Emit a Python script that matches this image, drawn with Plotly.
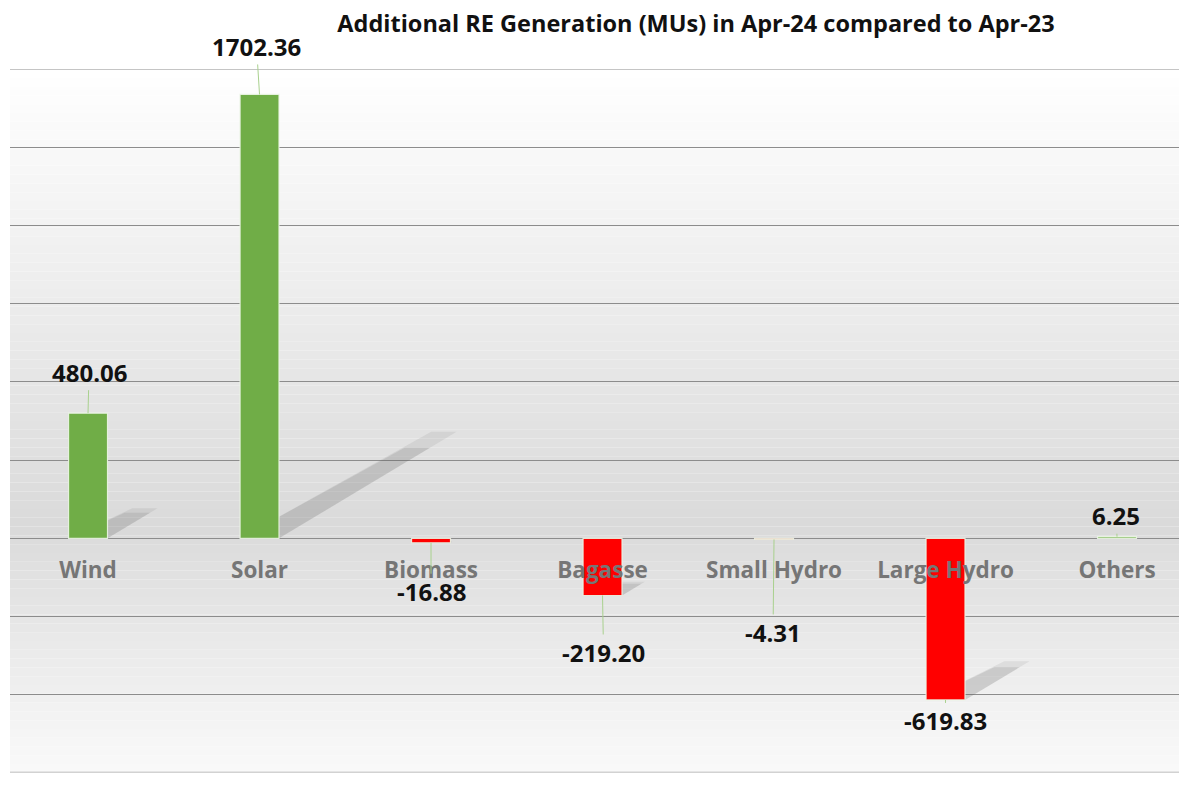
import plotly.graph_objects as go

categories = ["Wind", "Solar", "Biomass", "Bagasse", "Small Hydro", "Large Hydro", "Others"]
values = [480.06, 1702.36, -16.88, -219.20, -4.31, -619.83, 6.25]
label_texts = ["480.06", "1702.36", "-16.88", "-219.20", "-4.31", "-619.83", "6.25"]
title_text = "Additional RE Generation (MUs) in Apr-24 compared to Apr-23"

# label offsets (px) for the data labels
label_dx = [1, -3, 0, 1, -1, 0, -1]
label_dy = [-41, -48, 49, 57, 93, 21, -21]

GREEN = "#70AD47"
RED = "#FF0000"
FONT = "Open Sans"

W, H = 1187, 789
# the page body adds an 8px offset; margins compensate for it
M_L, M_R, M_T, M_B = 2, 8, 61, 24
Y_MIN, Y_MAX = -900, 1800
X_MIN, X_MAX = -0.455, 6.408
BAR_W = 0.227

plot_w = W - M_L - M_R
plot_h = H - M_T - M_B
px_per_x = plot_w / (X_MAX - X_MIN)
px_per_y = plot_h / (Y_MAX - Y_MIN)

colors = [GREEN if v >= 0 else RED for v in values]

fig = go.Figure()
fig.add_trace(go.Bar(
    x=list(range(len(categories))), y=values, width=BAR_W,
    marker=dict(color=colors, line=dict(color="rgba(235,245,228,0.9)", width=1.2)),
    hoverinfo="skip",
))

shapes = []
# gradient background bands
n = 80
zero_frac = (0 - Y_MIN) / (Y_MAX - Y_MIN)
def shade(f):
    if f >= zero_frac:
        t = (f - zero_frac) / (1 - zero_frac)
        lo, hi = 217, 255
    else:
        t = 1 - f / zero_frac
        lo, hi = 220, 250
    c = int(round(lo + (hi - lo) * t))
    return f"rgb({c},{c},{c})"
for i in range(n):
    f0 = i / n
    f1 = (i + 1) / n
    shapes.append(dict(type="rect", xref="paper", yref="paper", x0=0, x1=1, y0=f0, y1=f1,
                       fillcolor=shade((f0 + f1) / 2), line=dict(width=0), layer="below"))

# soft shadows derived from bar geometry (two layers for a softer edge)
for i, v in enumerate(values):
    h_px = abs(v) * px_per_y
    base = min(v, 0)
    xl = i - BAR_W / 2
    xr = i + BAR_W / 2
    for k, (frac, op) in enumerate([(0.40, 0.10), (0.34, 0.14)]):
        dx = frac * h_px / px_per_x
        dy = frac * 0.6 * h_px / px_per_y
        path = (f"M {xl} {base} L {xr} {base} L {xr + dx} {base + dy} "
                f"L {xl + dx + BAR_W * 0.35} {base + dy} Z")
        shapes.append(dict(type="path", xref="x", yref="y", path=path,
                           fillcolor=f"rgba(90,90,90,{op})", line=dict(width=0), layer="between"))

# top gridline and bottom light border line
shapes.append(dict(type="line", xref="paper", yref="y", x0=0, x1=1, y0=Y_MAX, y1=Y_MAX,
                   line=dict(color="#8c8c8c", width=1), layer="between"))
shapes.append(dict(type="line", xref="paper", yref="y", x0=0, x1=1, y0=Y_MIN, y1=Y_MIN,
                   line=dict(color="#d2d2d2", width=3), layer="above"))

annotations = []
for i, (v, t) in enumerate(zip(values, label_texts)):
    annotations.append(dict(
        x=i, y=v, xref="x", yref="y", text=f"<b>{t}</b>",
        showarrow=True, arrowhead=0, arrowwidth=1, arrowcolor="#A9D18E",
        ax=label_dx[i], ay=label_dy[i],
        font=dict(family=FONT, size=24, color="#111111"),
    ))

fig.update_layout(
    width=W, height=H,
    margin=dict(l=M_L, r=M_R, t=M_T, b=M_B, pad=0),
    paper_bgcolor="white", plot_bgcolor="white",
    showlegend=False,
    title=dict(text=f"<b>{title_text}</b>", x=688 / W, xanchor="center",
               y=1 - 16 / H, yanchor="middle",
               font=dict(family=FONT, size=23.5, color="#111111")),
    shapes=shapes, annotations=annotations,
    xaxis=dict(range=[X_MIN, X_MAX], tickmode="array",
               tickvals=list(range(len(categories))), ticktext=[f"<b>{c}</b>" for c in categories],
               anchor="free", position=zero_frac, showgrid=False, showline=False,
               zeroline=False, ticks="", ticklabelstandoff=16,
               tickfont=dict(family=FONT, size=22.5, color="#767676")),
    yaxis=dict(range=[Y_MIN, Y_MAX], tickvals=[-600, -300, 0, 300, 600, 900, 1200, 1500],
               showticklabels=False, showgrid=True, gridcolor="#8c8c8c", gridwidth=1,
               zeroline=True, zerolinecolor="#8c8c8c", zerolinewidth=1, showline=False),
    font=dict(family=FONT),
)

fig.write_html("out.html")
